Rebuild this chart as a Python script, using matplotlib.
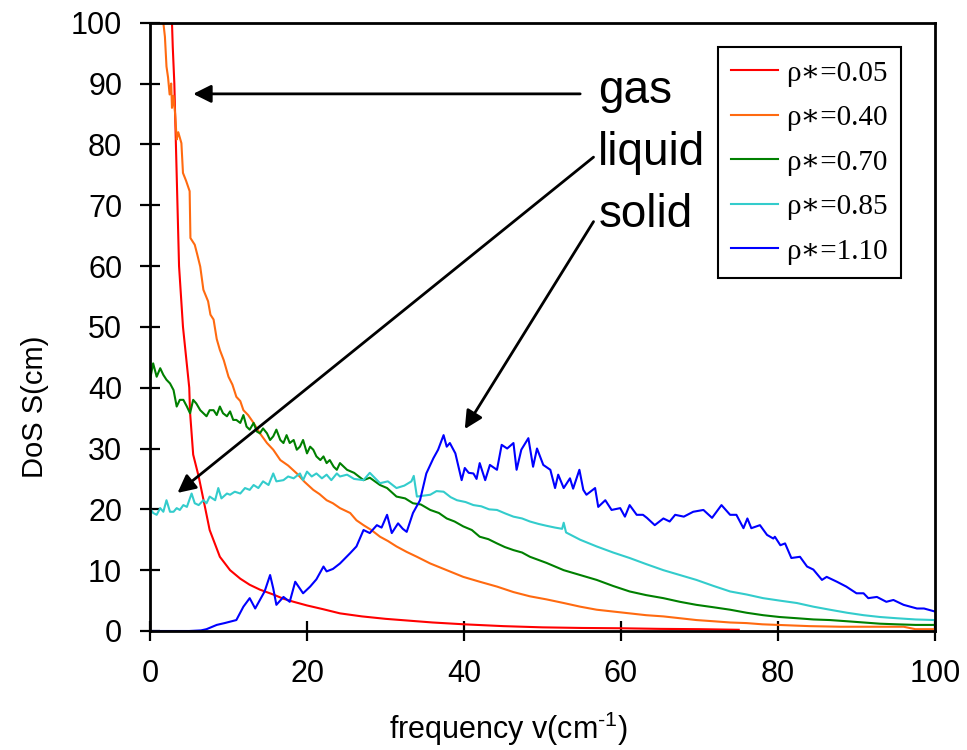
import matplotlib
matplotlib.use("Agg")
import matplotlib.pyplot as plt

plt.rcParams['font.family'] = ['Liberation Sans', 'DejaVu Sans']
plt.rcParams['mathtext.fontset'] = 'custom'
plt.rcParams['mathtext.rm'] = 'Liberation Sans'
plt.rcParams['mathtext.it'] = 'Liberation Sans:italic'

# density of states, read per reduced density
gas_freq = [2.5, 2.8, 2.9, 3.1, 3.3, 3.5, 3.7, 4.0, 4.2, 4.6, 5.0, 5.1, 5.5, 6.2, 7.0, 7.6,
            8.9, 10.2, 11.5, 12.7, 14.0, 15.7, 17.0, 18.3, 20.0, 22.0, 24.2, 27.0, 30.0,
            33.0, 36.0, 40.0, 45.0, 50.0, 55.0, 60.0, 65.0, 70.0, 75.0]
gas_dos = [115, 100, 96, 90, 80, 70, 60, 54, 50, 45, 40, 36, 29, 25.4, 20.4, 16.6,
           12.2, 10.0, 8.6, 7.6, 6.8, 6.0, 5.3, 4.8, 4.2, 3.6, 2.9, 2.4, 2.0,
           1.7, 1.4, 1.1, 0.8, 0.6, 0.5, 0.45, 0.35, 0.3, 0.2]

dense_gas_freq = [1.4, 1.7, 1.9, 2.1, 2.3, 2.5, 2.7, 2.8, 3.0, 3.2, 3.4, 3.6, 4.0, 4.2, 4.6,
                  5.05, 5.15, 5.7, 6.0, 6.4, 6.8, 7.4, 7.7, 8.1, 8.5, 8.9, 9.4, 10.0, 10.5,
                  11.0, 11.5, 11.9, 12.5, 13.2, 14.0, 14.9, 15.7, 16.6, 17.6, 18.7, 19.7,
                  20.8, 21.6, 22.5, 23.3, 24.2, 25.5, 26.3, 27.2, 28.2, 29.3, 30.3, 31.4,
                  32.7, 34.0, 35.7, 37.8, 39.9, 42.0, 44.2, 46.3, 48.4, 50.5, 52.7, 54.8,
                  56.9, 59.0, 61.1, 63.2, 65.4, 67.5, 69.6, 71.8, 73.9, 76.0, 78.0, 80.0,
                  84.0, 88.0, 92.0, 96.0, 97.5, 100.0]
dense_gas_dos = [110, 100, 97.7, 92.8, 91.0, 88.2, 90.0, 86.0, 88.0, 85.0, 80.8, 82.0, 80.2, 75.3, 74.0,
                 72.3, 64.6, 63.5, 62.0, 59.9, 56.1, 54.2, 52.0, 51.2, 48.0, 46.2, 44.5, 41.8, 40.5,
                 38.5, 37.8, 36.3, 35.5, 34.2, 32.5, 30.9, 29.8, 28.1, 27.2, 25.9, 24.5,
                 23.2, 22.5, 21.5, 21.0, 20.2, 19.4, 18.2, 17.4, 16.6, 15.5, 14.8, 13.9,
                 13.0, 12.2, 11.1, 10.0, 8.9, 8.1, 7.3, 6.4, 5.7, 5.2, 4.6, 4.0,
                 3.5, 3.2, 2.9, 2.6, 2.4, 2.1, 1.8, 1.6, 1.4, 1.3, 1.1, 1.0,
                 0.8, 0.7, 0.7, 0.7, 0.3, 0.3]

liquid_freq = [0.0, 0.4, 0.85, 1.3, 1.7, 2.1, 2.55, 3.0, 3.4, 3.8, 4.25, 4.7, 5.1, 5.5, 5.9,
               6.4, 6.8, 7.2, 7.6, 8.1, 8.5, 8.9, 9.3, 9.8, 10.2, 10.6, 11.0, 11.5, 11.9,
               12.3, 12.7, 13.2, 13.6, 14.0, 14.4, 14.9, 15.3, 15.7, 16.1, 16.6, 17.0, 17.4,
               17.8, 18.3, 18.7, 19.1, 19.5, 20.0, 20.4, 20.8, 21.2, 21.7, 22.1, 22.5, 22.9,
               23.4, 23.8, 24.2, 25.1, 26.0, 27.2, 28.0, 29.3, 30.2, 31.4, 32.5, 33.5, 34.5,
               35.7, 36.8, 37.8, 38.8, 39.9, 41.0, 42.0, 43.1, 44.2, 45.2, 46.3, 47.4, 48.4,
               50.5, 52.7, 54.8, 56.9, 59.0, 61.1, 63.2, 65.4, 67.5, 69.6, 71.8, 73.9, 76.0,
               78.1, 80.2, 82.4, 84.5, 86.6, 88.8, 90.9, 93.0, 95.1, 97.5, 100.0]
liquid_dos = [41.3, 44.0, 41.8, 43.2, 42.1, 41.3, 40.7, 39.6, 36.9, 38.0, 38.0, 36.9, 35.8, 38.0, 37.4,
              36.3, 35.8, 35.3, 36.3, 36.3, 35.5, 36.9, 35.8, 35.3, 36.1, 34.7, 34.7, 34.2, 35.5,
              33.6, 33.1, 34.2, 32.8, 32.5, 33.3, 32.5, 31.4, 32.0, 33.1, 31.4, 30.9, 32.2,
              30.9, 31.4, 29.8, 30.3, 31.4, 29.2, 30.3, 29.8, 28.7, 28.1, 28.7, 27.6, 28.1,
              27.0, 26.5, 27.6, 26.5, 26.0, 24.8, 25.2, 24.0, 23.5, 22.1, 21.8, 21.0, 20.8,
              19.9, 19.4, 18.5, 18.0, 17.2, 16.6, 15.5, 15.1, 14.4, 13.8, 13.3, 12.9, 12.2,
              11.2, 10.0, 9.2, 8.4, 7.4, 6.5, 5.9, 5.4, 4.8, 4.3, 3.9, 3.5, 3.0,
              2.6, 2.3, 2.1, 1.9, 1.8, 1.6, 1.4, 1.2, 1.1, 1.0, 1.0]

dense_liquid_freq = [0.0, 0.4, 0.85, 1.3, 1.7, 2.1, 2.55, 3.0, 3.4, 3.8, 4.25, 4.7, 5.3, 5.7, 6.2,
                     6.8, 7.2, 7.6, 8.3, 8.7, 9.1, 9.8, 10.2, 10.8, 11.5, 12.1, 12.7, 13.2, 13.8,
                     14.4, 15.1, 15.7, 16.1, 17.0, 17.6, 18.3, 19.1, 19.5, 20.0, 20.6, 21.2, 21.9,
                     22.5, 23.1, 23.8, 24.2, 25.1, 26.0, 27.2, 28.0, 29.3, 30.3, 31.4, 32.4, 33.3,
                     33.6, 34.0, 35.7, 36.5, 37.4, 38.3, 39.1, 40.2, 41.2, 42.2, 43.2, 44.2, 45.3,
                     46.3, 47.4, 48.4, 49.5, 50.5, 51.6, 52.5, 52.7, 53.0, 54.8, 56.9, 59.0, 61.1,
                     63.2, 65.4, 67.5, 69.6, 71.8, 73.9, 76.0, 78.1, 80.2, 82.4, 84.5, 86.6, 88.8,
                     90.9, 93.0, 95.1, 97.5, 100.0]
dense_liquid_dos = [20.2, 19.4, 19.1, 20.2, 19.6, 21.5, 19.6, 19.6, 20.2, 19.9, 20.7, 20.4, 22.6, 21.0, 20.7,
                    21.5, 21.0, 22.1, 21.5, 23.5, 21.8, 22.6, 22.4, 22.9, 22.6, 23.5, 23.2, 24.0, 23.5,
                    24.6, 24.0, 25.9, 24.6, 24.8, 25.4, 25.1, 25.9, 24.8, 26.2, 25.4, 25.9, 25.1,
                    25.7, 24.8, 25.9, 25.4, 25.7, 25.0, 24.8, 26.0, 24.3, 24.6, 23.5, 23.9, 24.6,
                    25.5, 22.1, 22.4, 23.0, 22.9, 22.0, 21.5, 21.2, 20.7, 20.5, 20.0, 19.9, 19.3,
                    18.8, 18.5, 18.0, 17.6, 17.3, 17.0, 16.8, 17.8, 16.2, 15.0, 13.9, 12.9, 12.0,
                    11.0, 10.0, 9.2, 8.4, 7.4, 6.5, 6.0, 5.4, 5.0, 4.6, 4.0, 3.5, 3.0,
                    2.6, 2.3, 2.1, 1.9, 1.8]

solid_freq = [0.0, 5.0, 6.5, 7.2, 8.5, 9.5, 11.0, 11.9, 12.7, 13.4, 14.0, 14.6, 15.3, 15.7, 16.1,
              17.0, 17.8, 18.5, 19.5, 20.4, 21.2, 22.1, 22.5, 23.3, 24.2, 25.5, 26.3, 27.2, 28.0,
              28.9, 29.5, 30.2, 30.8, 31.6, 32.2, 32.7, 33.5, 34.4, 35.2, 36.1, 36.7, 37.4, 37.8,
              38.2, 38.9, 39.3, 39.7, 40.1, 40.6, 41.2, 41.6, 42.0, 42.7, 43.3, 44.2, 44.8, 45.5,
              46.3, 46.7, 47.3, 48.2, 48.8, 49.3, 50.1, 51.0, 51.6, 52.0, 52.7, 53.5, 53.9, 54.7,
              55.2, 55.6, 56.7, 57.1, 58.0, 58.8, 59.9, 60.5, 61.1, 62.0, 62.8, 63.3, 64.3, 65.4,
              66.2, 66.9, 68.0, 69.2, 70.5, 71.6, 72.8, 73.9, 74.7, 75.6, 76.1, 76.6, 77.7, 78.6,
              79.4, 79.6, 80.3, 80.9, 81.7, 82.8, 83.7, 84.5, 85.6, 86.2, 87.5, 88.7, 90.0, 90.9,
              91.5, 92.6, 93.8, 94.7, 96.0, 97.7, 98.6, 100.0]
solid_dos = [0.0, 0.0, 0.1, 0.3, 1.0, 1.3, 1.8, 4.0, 5.4, 3.7, 5.1, 6.5, 9.2, 7.0, 4.3,
             5.6, 4.8, 8.1, 6.2, 7.3, 8.5, 10.6, 9.8, 10.2, 11.1, 12.8, 13.9, 16.6, 16.1,
             17.4, 17.0, 19.1, 16.1, 17.7, 16.8, 16.3, 19.4, 21.5, 25.9, 28.4, 29.8, 32.2, 30.3,
             30.9, 29.2, 27.0, 24.8, 26.8, 26.0, 25.9, 25.0, 27.6, 24.8, 27.3, 26.5, 30.6, 30.0,
             30.9, 26.5, 29.8, 31.7, 27.0, 30.0, 27.3, 26.5, 23.5, 25.7, 23.5, 25.1, 23.4, 26.5,
             23.2, 22.4, 23.5, 20.4, 21.5, 19.9, 20.2, 18.8, 20.7, 19.1, 19.1, 18.6, 17.4, 18.5,
             18.0, 19.1, 18.8, 19.6, 19.9, 18.6, 20.7, 19.1, 19.1, 16.9, 18.5, 16.9, 17.4, 15.8,
             15.2, 15.5, 14.1, 14.4, 12.0, 12.2, 10.6, 10.1, 8.4, 8.9, 8.1, 7.3, 6.2, 6.2,
             5.4, 5.6, 4.8, 5.1, 4.3, 3.7, 3.7, 3.2]

labels = ['ρ∗=0.05', 'ρ∗=0.40', 'ρ∗=0.70', 'ρ∗=0.85', 'ρ∗=1.10']
colors = ['#FF0000', '#FF6A10', '#008000', '#33CCCC', '#0000FF']

fig = plt.figure(figsize=(9.67, 7.5), dpi=100)
ax = fig.add_axes([150 / 967, 1 - 631 / 750, 785 / 967, 608.3 / 750])

series = [(gas_freq, gas_dos), (dense_gas_freq, dense_gas_dos), (liquid_freq, liquid_dos),
          (dense_liquid_freq, dense_liquid_dos), (solid_freq, solid_dos)]
for (f, s), lab, c in zip(series, labels, colors):
    ax.plot(f, s, color=c, lw=1.5, label=lab)

ax.set_xlim(0, 100)
ax.set_ylim(0, 100)
ax.set_xticks(range(0, 101, 20))
ax.set_yticks(range(0, 101, 10))
ax.tick_params(direction='inout', length=14, width=1.6, labelsize=22, pad=13,
               top=False, right=False)
for sp in ax.spines.values():
    sp.set_linewidth(2)

fig.text(508 / 967, 1 - 739 / 750, 'frequency v(cm$^{\u2010 1}$)', fontsize=22,
         ha='center', va='baseline')
fig.text(35 / 967, 1 - 407 / 750, 'DoS S(cm)', fontsize=21, rotation=90,
         ha='center', va='center')

# phase annotations
arrow = dict(arrowstyle='-|>,head_length=0.6,head_width=0.3', color='k', lw=2,
             mutation_scale=18, shrinkA=0, shrinkB=0)
ax.annotate('', xy=(5.5, 88.3), xytext=(54.8, 88.3), arrowprops=arrow)
ax.annotate('', xy=(3.5, 22.7), xytext=(56.5, 77.9), arrowprops=arrow)
ax.annotate('', xy=(40.1, 33.2), xytext=(56.5, 67.3), arrowprops=arrow)
ax.text(57.1, 86.8, 'gas', fontsize=33, va='baseline')
ax.text(57.1, 76.6, 'liquid', fontsize=33, va='baseline')
ax.text(57.1, 66.4, 'solid', fontsize=33, va='baseline')

leg = ax.legend(loc='upper left', bbox_to_anchor=(718 / 967, 1 - 47 / 750),
                bbox_transform=fig.transFigure, fancybox=False, framealpha=1,
                edgecolor='k', borderpad=0.45, labelspacing=0.62, handlelength=1.6,
                handletextpad=0.3, borderaxespad=0,
                prop={'family': ['Liberation Serif', 'DejaVu Serif'], 'size': 21})
leg.get_frame().set_linewidth(1.5)

fig.savefig('out.png', dpi=100)
